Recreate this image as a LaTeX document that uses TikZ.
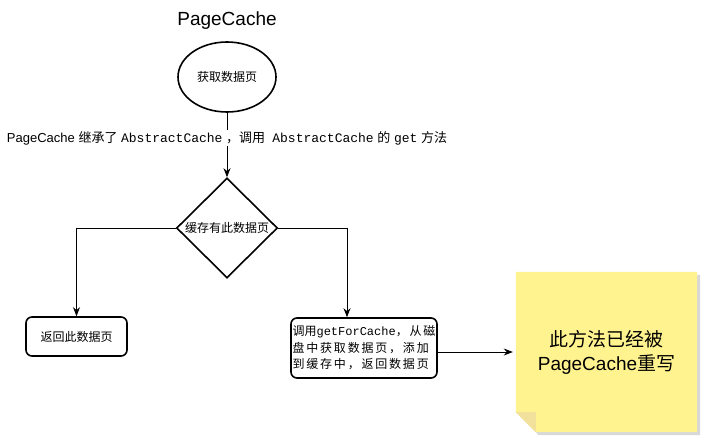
\documentclass[tikz,border=0pt]{standalone}
\usepackage{fontspec}
\setmainfont{Liberation Sans}
\setmonofont{Liberation Mono}
\newfontfamily\cjk{Noto Sans CJK SC}
\newfontfamily\cjkw[LetterSpace=15]{Noto Sans CJK SC}
\usetikzlibrary{arrows.meta,shapes.geometric,positioning}

\newcommand{\zh}[1]{{\cjk #1}}
\newcommand{\zhw}[1]{{\cjkw #1}}

\tikzset{
  shape border/.style={draw, line width=1.6pt, font=\cjk\fontsize{12}{14}\selectfont},
  flowarrow/.style={line width=1pt, -{Stealth[length=9pt,width=7pt]}},
  roundbox/.style={shape border, rectangle, rounded corners=6pt, inner sep=1pt}
}

\begin{document}
\begin{tikzpicture}[x=1pt,y=-1pt]
  \useasboundingbox (0,0) rectangle (703,439);

  % title
  \node[font=\fontsize{19}{22}\selectfont] (title) at (227,21) {PageCache};

  % flow nodes
  \node[shape border, ellipse, minimum width=98pt, minimum height=70pt] (start) at (227,77) {获取数据页};
  \node[shape border, diamond, minimum width=101pt, minimum height=100pt, inner sep=0pt] (check) at (227,228) {缓存有此数据页};
  \node[roundbox, minimum width=101pt, minimum height=39pt] (hit) at (76.5,336.5) {返回此数据页};
  \node[roundbox, minimum width=146pt, minimum height=60pt, align=left,
        font=\fontsize{12}{16.5}\selectfont] (miss) at (364,348)
        {\zh{调用}\texttt{getForCache}\zhw{，从磁}\\\zhw{盘中获取数据页，添加}\\\zhw{到缓存中，返回数据页}};

  % note
  \node[minimum width=181pt, minimum height=160pt, align=center,
        font=\fontsize{19}{24}\selectfont] (note) at (606.5,352) {};
  \fill[black!30, opacity=0.5] ([xshift=3pt,yshift=-3pt]note.north west) -- ([xshift=3pt,yshift=-3pt]note.north east)
    -- ([xshift=3pt,yshift=-3pt]note.south east) -- ([xshift=23pt,yshift=-3pt]note.south west)
    -- ([xshift=3pt,yshift=17pt]note.south west) -- cycle;
  \fill[yellow!40!white!95!orange] (note.north west) -- (note.north east) -- (note.south east)
    -- ([xshift=20pt]note.south west) -- ([yshift=20pt]note.south west) -- cycle;
  \fill[yellow!50!brown!45!white] ([yshift=20pt]note.south west) -- ([xshift=20pt,yshift=20pt]note.south west)
    -- ([xshift=20pt]note.south west) -- cycle;
  \node[align=center, font=\fontsize{19}{24}\selectfont] (notetext) at (note.center)
    {\zh{此方法已经被}\\PageCache\zh{重写}};

  % connectors
  \draw[flowarrow] (start) -- node[pos=0.39, fill=white, inner sep=1pt, font=\fontsize{13}{15}\selectfont]
    {PageCache \zh{继承了} \texttt{AbstractCache} \zh{，调用} \ \texttt{AbstractCache} \zh{的} \texttt{get} \zh{方法}} (check);
  \draw[flowarrow] (check.west) -| (hit.north);
  \draw[flowarrow] (check.east) -| ([xshift=-17pt]miss.north);
  \draw[flowarrow] (miss.east |- note.west) -- ([xshift=-3pt]note.west);
\end{tikzpicture}
\end{document}
